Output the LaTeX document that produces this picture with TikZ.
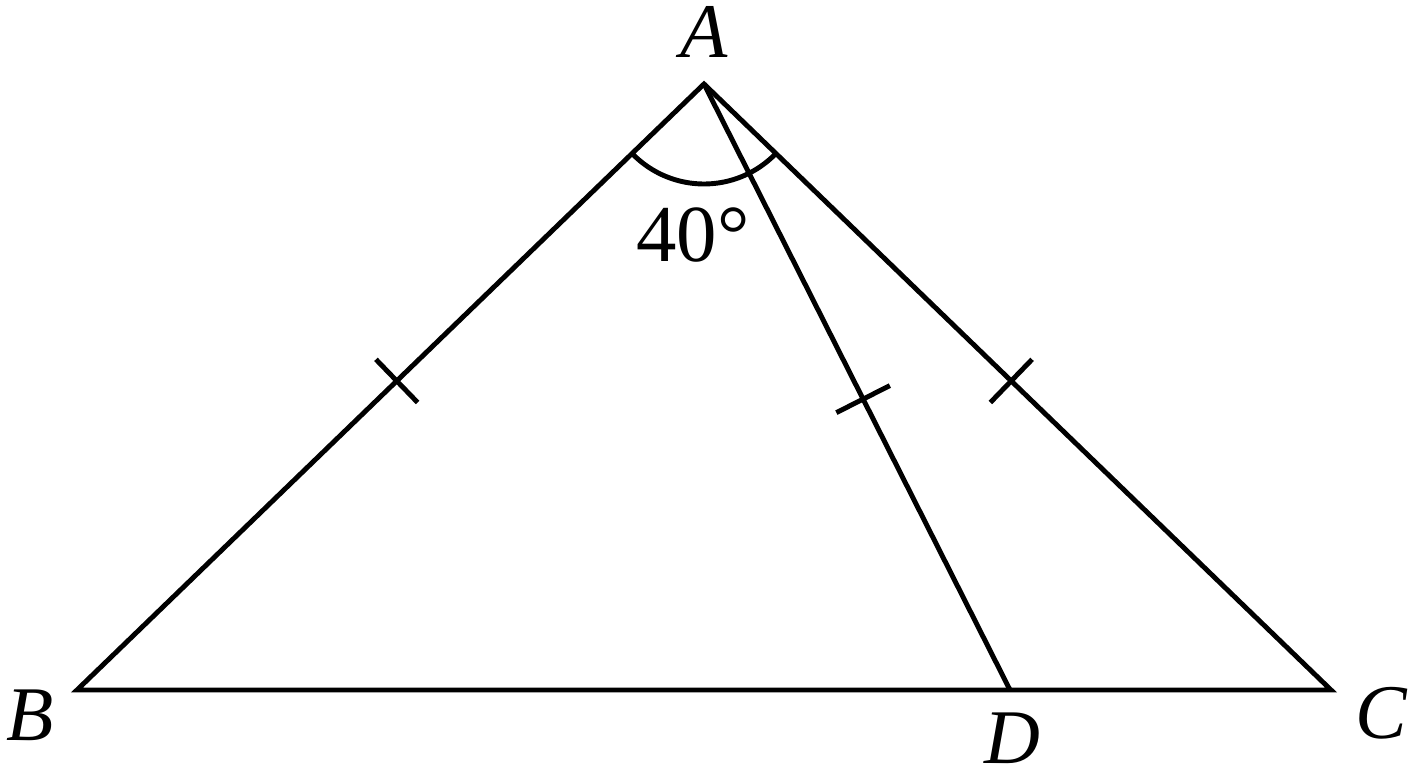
\documentclass[tikz,border=0pt]{standalone}
\usepackage{fontspec}
\setmainfont{Liberation Serif}
\usepackage{tikz}
\usetikzlibrary{positioning}
\tikzstyle{side} = [draw, line width=1.4pt, line join=miter]
\tikzstyle{tickmark} = [draw, line width=1.4pt, minimum width=0pt,
    minimum height=0.6cm, inner sep=0pt, outer sep=0pt]
\tikzstyle{vertex} = [font=\fontsize{22}{26}\selectfont\itshape, inner sep=0pt]
\tikzstyle{angle label} = [font=\fontsize{23}{27}\selectfont, inner sep=0pt]

\begin{document}
\begin{tikzpicture}
  \useasboundingbox (0,0) rectangle (14.08,7.68);
  % Place points
  \coordinate (A) at (7.04,6.84);
  \coordinate (B) at (0.77,0.78);
  \coordinate (C) at (13.31,0.78);
  \coordinate (D) at (10.10,0.78);

  % Labels
  \node [vertex] (labelA) at (7.04,7.36) {A};
  \node [vertex] (labelB) at (0.30,0.53) {B};
  \node [vertex] (labelC) at (13.81,0.55) {C};
  \node [vertex] (labelD) at (10.12,0.30) {D};
  \node [angle label] (angle) at (6.93,5.33) {40°};

  % Draw sides
  \path [side] (B) -- (A) -- (C) -- cycle;
  \path [side] (A) -- (D);

  % Equal marks
  \path (A) -- node [tickmark, sloped, pos=0.49] (markAB) {} (B);
  \path (A) -- node [tickmark, sloped, pos=0.49] (markAC) {} (C);
  \path (A) -- node [tickmark, sloped, pos=0.52] (markAD) {} (D);

  % Angle at A
  \path [side] (A) ++(224:1) arc (224:316:1);
\end{tikzpicture}
\end{document}
